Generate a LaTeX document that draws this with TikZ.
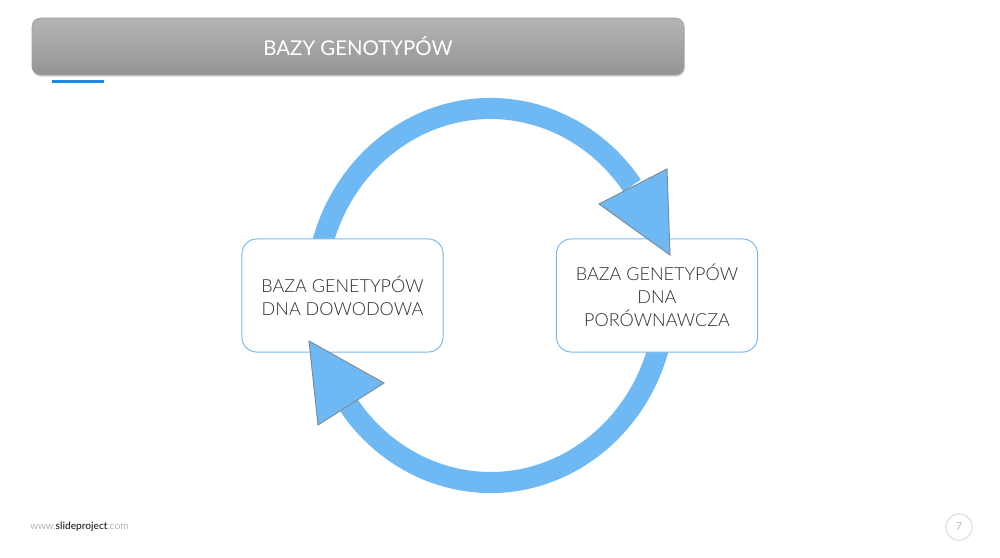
\documentclass[tikz,border=0pt]{standalone}
\usepackage{fontspec}
\setmainfont{Lato}
\newfontfamily\lightfont{Lato Light}
\usetikzlibrary{positioning, shadows}

\definecolor{cycleblue}{RGB}{110,185,243}
\definecolor{tipgray}{RGB}{125,140,155}
\definecolor{boxline}{RGB}{125,185,235}
\definecolor{accentblue}{RGB}{30,136,229}
\definecolor{textgray}{RGB}{45,45,45}

\begin{document}
\begin{tikzpicture}[
    x=0.025cm,
    y=0.025cm,
    titlebar/.style={
        rounded corners=6pt,
        top color={rgb,255:red,180;green,180;blue,180},
        bottom color={rgb,255:red,148;green,148;blue,148},
        draw={rgb,255:red,160;green,160;blue,160},
        drop shadow={opacity=0.35, shadow xshift=0.6pt, shadow yshift=-1.2pt},
    },
    cycle/.style={
        line width=15pt,
        draw=cycleblue,
    },
    tip/.style={
        fill=cycleblue,
        draw=tipgray,
        line width=0.7pt,
        line join=miter,
    },
    dbbox/.style={
        rectangle,
        rounded corners=10.5pt,
        draw=boxline,
        line width=0.7pt,
        fill=white,
        minimum width=5.025cm,
        minimum height=2.825cm,
        align=center,
        text=textgray,
        font=\lightfont\fontsize{12.8}{16.5}\selectfont,
    },
    footer/.style={
        font=\fontsize{7.2}{8.5}\selectfont,
        text=gray,
    }
]
    \useasboundingbox (0,0) rectangle (1000,558);

    % Title
    \shade[titlebar] (32,483) rectangle (684,540);
    \node[text=white, font=\fontsize{14.5}{16}\selectfont] (title) at (358,512) {BAZY GENOTYPÓW};
    \fill[accentblue] (52,475) rectangle (104,478);

    % Cycle
    \coordinate (centre) at (490.5,262.5);
    \draw[cycle] (centre) ++(168:175 and 187) arc[start angle=168, end angle=36, x radius=175, y radius=187];
    \draw[cycle] (centre) ++(-12:175 and 187) arc[start angle=-12, end angle=-144, x radius=175, y radius=187];

    % Databases
    \node[dbbox] (dowodowa) at (342.5,262.5) {BAZA GENETYPÓW\\DNA DOWODOWA};
    \node[dbbox] (porownawcza) at (657,262.5) {BAZA GENETYPÓW\\DNA\\PORÓWNAWCZA};

    % Arrow tips
    \draw[tip] (599,354) -- (667,389) -- (670,303) -- cycle;
    \draw[tip] (384,175) -- (318,133) -- (309,217) -- cycle;

    % Footer
    \node[footer, anchor=west, inner sep=0pt] (site) at (30,31) {\lightfont www.\textbf{\color{textgray}slideproject}.com};
    \node[circle, draw={rgb,255:red,212;green,212;blue,212}, line width=0.6pt, minimum size=0.66cm, inner sep=0pt, text=gray, font=\lightfont\fontsize{7.5}{9}\selectfont] (page) at (959,31) {7};
\end{tikzpicture}
\end{document}
